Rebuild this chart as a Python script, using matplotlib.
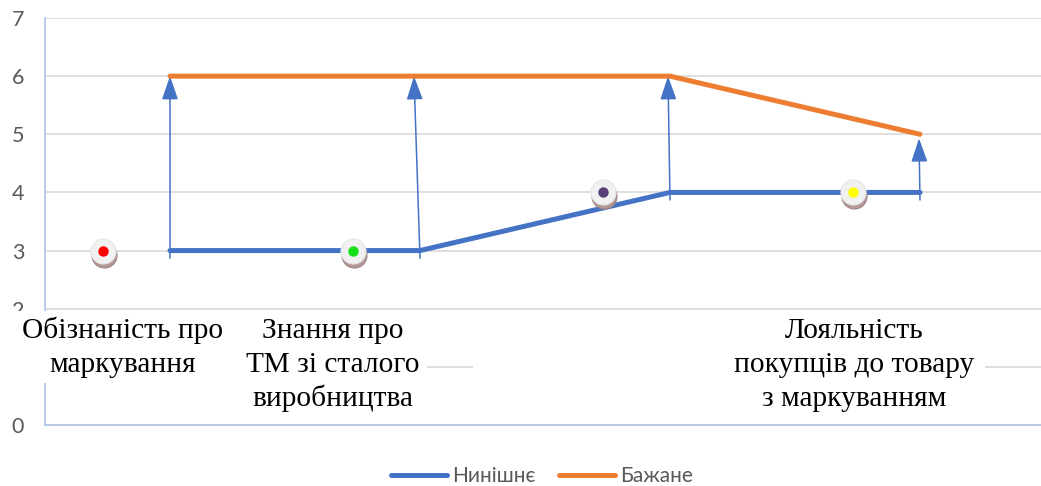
import matplotlib
matplotlib.use("Agg")
import matplotlib.pyplot as plt
from matplotlib.patches import Rectangle
from matplotlib.transforms import offset_copy
from matplotlib.patches import ArrowStyle

# --- data ---
categories = [
    "Обізнаність про\nмаркування",
    "Знання про\nТМ зі сталого\nвиробництва",
    "",
    "Лояльність\nпокупців до товару\nз маркуванням",
]
current = [3, 3, 4, 4]      # Нинішнє
desired = [6, 6, 6, 5]      # Бажане
series_names = ["Нинішнє", "Бажане"]
dot_colors = ["#ff0000", "#16e016", "#5a3f78", "#ffff00"]
y_ticks = [0, 1, 2, 3, 4, 5, 6, 7]

BLUE = "#4472c4"
ORANGE = "#ed7d31"
GRID = "#d9d9d9"
AXIS = "#b4c7e7"
TICK = "#595959"

W, H, DPI = 1041, 486, 100
fig = plt.figure(figsize=(W / DPI, H / DPI), dpi=DPI)
ax = fig.add_axes([45 / W, 61 / H, 1000 / W, 407 / H])

x = list(range(1, len(categories) + 1))
ax.set_xlim(0.5, len(categories) + 0.5)
ax.set_ylim(0, 7)

# axes styling
for s in ("top", "right"):
    ax.spines[s].set_visible(False)
for s in ("left", "bottom"):
    ax.spines[s].set_color(AXIS)
    ax.spines[s].set_linewidth(1.3)
ax.set_xticks([])
ax.set_yticks(y_ticks)
ax.tick_params(axis="y", length=0, pad=15, labelsize=15.5, labelcolor=TICK)
for lab in ax.get_yticklabels():
    lab.set_family("Lato")
ax.yaxis.grid(True, color=GRID, linewidth=1.2)
ax.set_axisbelow(True)

# series lines
ax.plot(x, current, color=BLUE, lw=3.6, solid_capstyle="round", zorder=4,
        label=series_names[0])
ax.plot(x, desired, color=ORANGE, lw=3.6, solid_capstyle="round", zorder=4,
        label=series_names[1])

# arrows from current level up to desired level
tail_drop = 0.13
tip_gap = [0.0, 0.0, 0.0, 0.07]
tip_shift = [0.0, -0.024, -0.008, -0.004]
style = ArrowStyle("-|>", head_length=1.45, head_width=0.5)
for xi, c, d, g, sh in zip(x, current, desired, tip_gap, tip_shift):
    ax.annotate("", xy=(xi + sh, d - g), xytext=(xi, c - tail_drop),
                arrowprops=dict(arrowstyle=style, mutation_scale=10,
                                color=BLUE, lw=1.1, shrinkA=0, shrinkB=0),
                zorder=3)

# decorative markers beside each category
dot_offset = -0.27
shadow_tr = offset_copy(ax.transData, fig=fig, x=1.5, y=-4, units="dots")
for xi, c, col in zip(x, current, dot_colors):
    xd = xi + dot_offset
    ax.plot([xd], [c], "o", ms=18, mfc="#b49898", mec="#a08484", mew=0.8,
            transform=shadow_tr, zorder=5)
    ax.plot([xd], [c], "o", ms=18, mfc="#f1f1f1", mec="#e6e6e6", mew=0.8,
            zorder=6)
    ax.plot([xd], [c], "o", ms=7.5, mfc=col, mec=col, mew=0, zorder=7)

# white label boxes over the lower part of the plot
boxes = [
    (0.36, 0.72, 1.30, 1.96),
    (1.30, 0.24, 2.03, 1.96),
    None,
    (2.21, 0.24, 4.26, 1.96),
]
label_x = [0.812, 1.652, None, 3.736]
first_baseline = 1.496
line_step = 0.585
for box, lx, text in zip(boxes, label_x, categories):
    if box is None:
        continue
    x0, y0, x1, y1 = box
    rect = Rectangle((x0, y0), x1 - x0, y1 - y0, facecolor="white",
                     edgecolor="none", clip_on=False, zorder=10)
    ax.add_patch(rect)
    for k, line in enumerate(text.split("\n")):
        t = ax.text(lx, first_baseline - k * line_step, line, ha="center",
                    va="baseline", family="Liberation Serif", fontsize=21.2,
                    color="black", zorder=11)
        t.set_clip_path(rect)

# legend
leg = fig.legend(loc="center", bbox_to_anchor=(542 / W, 10 / H), ncol=2,
                 frameon=False, fontsize=15, handlelength=2.7,
                 columnspacing=1.1, handletextpad=0.25)
for t in leg.get_texts():
    t.set_color(TICK)
    t.set_family("Lato")
for h in leg.get_lines():
    h.set_linewidth(3.6)

fig.savefig("out.png", dpi=DPI)
